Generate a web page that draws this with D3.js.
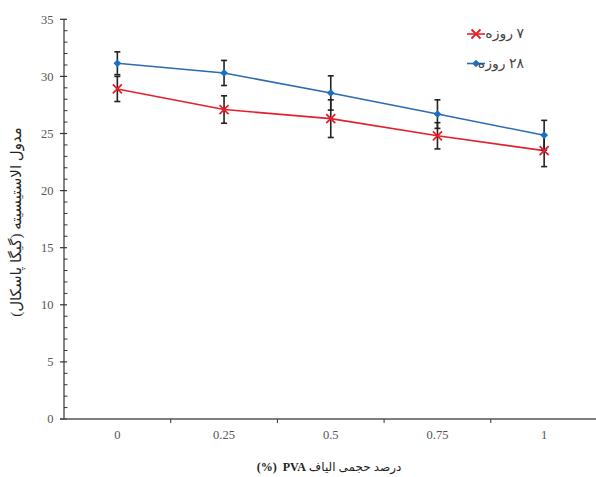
<!DOCTYPE html>
<html>
<head>
<meta charset="utf-8">
<script src="https://cdn.jsdelivr.net/npm/d3@7"></script>
<style>
  html, body { margin: 0; padding: 0; background: #fff; }
  svg { display: block; }
  text { font-family: "Liberation Serif", "DejaVu Sans", serif; }
</style>
</head>
<body>
<div id="chart"></div>
<script>
// Fibre volume fractions (x categories)
const categories = ["0", "0.25", "0.5", "0.75", "1"];
// Modulus of elasticity (GPa) after 7 and 28 days of curing
const series7 = [28.9, 27.1, 26.3, 24.8, 23.5];
const err7 = [1.1, 1.2, 1.65, 1.15, 1.4];
const series28 = [31.15, 30.3, 28.55, 26.7, 24.85];
const err28 = [1.0, 1.1, 1.5, 1.25, 1.3];
const yTicks = [0, 5, 10, 15, 20, 25, 30, 35];
const legendLabels = ["۷ روزه", "۲۸ روزه"];
const xTitleFa = "درصد حجمی الیاف ";
const xTitleUnit = "PVA  (%)";
const yTitle = "مدول الاستیسیته (گیگا پاسکال)";

const W = 596, H = 477;
const margin = { left: 64, right: -1.5, top: 19.3, bottom: 58 };

const svg = d3.select("#chart").append("svg")
  .attr("width", W).attr("height", H);

const x = d3.scaleBand()
  .domain(categories)
  .range([margin.left, W - margin.right])
  .paddingInner(0).paddingOuter(0);

const y = d3.scaleLinear()
  .domain([0, 35])
  .range([H - margin.bottom, margin.top]);

const cx = d => x(d) + x.bandwidth() / 2;

// Y axis: major ticks crossing the line, minor ticks inside
const yAxisG = svg.append("g").attr("transform", `translate(${margin.left},0)`);
yAxisG.append("line")
  .attr("x1", 0).attr("x2", 0)
  .attr("y1", y(0)).attr("y2", y(35))
  .attr("stroke", "#333").attr("stroke-width", 1.2);
yAxisG.selectAll(".minor")
  .data(d3.range(0, 36).filter(v => v % 5 !== 0))
  .join("line")
  .attr("x1", 0).attr("x2", 3.5)
  .attr("y1", d => y(d)).attr("y2", d => y(d))
  .attr("stroke", "#333").attr("stroke-width", 1);
yAxisG.selectAll(".major")
  .data(yTicks)
  .join("line")
  .attr("x1", -4).attr("x2", 3)
  .attr("y1", d => y(d)).attr("y2", d => y(d))
  .attr("stroke", "#333").attr("stroke-width", 1.2);
yAxisG.selectAll(".ylab")
  .data(yTicks)
  .join("text")
  .attr("x", -10.5).attr("y", d => y(d))
  .attr("dy", "0.35em")
  .attr("text-anchor", "end")
  .attr("font-size", 12.5).attr("fill", "#555")
  .text(d => d);

// X axis: band boundaries marked with ticks
const xAxisG = svg.append("g").attr("transform", `translate(0,${y(0)})`);
xAxisG.append("line")
  .attr("x1", margin.left - 4).attr("x2", W)
  .attr("stroke", "#555").attr("stroke-width", 1.4);
xAxisG.selectAll(".xtick")
  .data(categories.slice(1))
  .join("line")
  .attr("x1", d => x(d)).attr("x2", d => x(d))
  .attr("y1", 0).attr("y2", 4)
  .attr("stroke", "#333").attr("stroke-width", 1);
xAxisG.selectAll(".xlab")
  .data(categories)
  .join("text")
  .attr("x", d => cx(d)).attr("y", 20)
  .attr("text-anchor", "middle")
  .attr("font-size", 12.5).attr("fill", "#555")
  .text(d => d);

// Axis titles
const xt = svg.append("text")
  .attr("x", 329).attr("y", 471)
  .attr("text-anchor", "middle")
  .attr("direction", "rtl")
  .attr("xml:space", "preserve")
  .style("white-space", "pre")
  .attr("font-size", 12).attr("fill", "#222");
xt.append("tspan").text(xTitleFa);
xt.append("tspan").attr("font-weight", "bold").text(xTitleUnit);

svg.append("text")
  .attr("transform", `translate(21,222) rotate(-90)`)
  .attr("text-anchor", "middle")
  .attr("direction", "rtl")
  .attr("font-size", 15).attr("fill", "#222")
  .text(yTitle);

const red = "#e3202b", blue = "#2b6bb2", blueMark = "#1b6fc4";

const line = d3.line().x((d, i) => cx(categories[i])).y(d => y(d));

// Series lines
svg.append("path").datum(series28)
  .attr("d", line).attr("fill", "none")
  .attr("stroke", blue).attr("stroke-width", 1.6);
svg.append("path").datum(series7)
  .attr("d", line).attr("fill", "none")
  .attr("stroke", red).attr("stroke-width", 1.6);

// Error bars
function errorBars(vals, errs) {
  const g = svg.append("g").attr("stroke", "#222").attr("stroke-width", 1.6);
  vals.forEach((v, i) => {
    const px = cx(categories[i]);
    g.append("line").attr("x1", px).attr("x2", px)
      .attr("y1", y(v - errs[i])).attr("y2", y(v + errs[i]));
    [v - errs[i], v + errs[i]].forEach(e => {
      g.append("line").attr("x1", px - 3).attr("x2", px + 3)
        .attr("y1", y(e)).attr("y2", y(e));
    });
  });
}
errorBars(series28, err28);
errorBars(series7, err7);

// Markers
const diamond = d3.symbol().type(d3.symbolDiamond2).size(38);
function crossPath(px, py, r) {
  return `M${px - r},${py - r}L${px + r},${py + r}M${px - r},${py + r}L${px + r},${py - r}`;
}
svg.append("g").selectAll("path")
  .data(series28)
  .join("path")
  .attr("transform", (d, i) => `translate(${cx(categories[i])},${y(d)})`)
  .attr("d", diamond)
  .attr("fill", blueMark);
svg.append("g").selectAll("path")
  .data(series7)
  .join("path")
  .attr("d", (d, i) => crossPath(cx(categories[i]), y(d), 4.5))
  .attr("stroke", red).attr("stroke-width", 1.8).attr("fill", "none");

// Legend
const legend = svg.append("g");
const legendItems = [
  { label: legendLabels[0], color: red, kind: "cross", ly: 34 },
  { label: legendLabels[1], color: blue, kind: "diamond", ly: 63.5 }
];
legendItems.forEach(it => {
  legend.append("line")
    .attr("x1", 467).attr("x2", 485)
    .attr("y1", it.ly).attr("y2", it.ly)
    .attr("stroke", it.color).attr("stroke-width", 1.6);
  if (it.kind === "cross") {
    legend.append("path").attr("d", crossPath(476, it.ly, 4.5))
      .attr("stroke", it.color).attr("stroke-width", 1.8).attr("fill", "none");
  } else {
    legend.append("path").attr("transform", `translate(476,${it.ly})`)
      .attr("d", diamond).attr("fill", blueMark);
  }
  legend.append("text")
    .attr("x", 524).attr("y", it.ly)
    .attr("dy", "0.3em")
    .attr("direction", "rtl")
    .attr("text-anchor", "start")
    .attr("font-size", 14).attr("fill", "#444")
    .text(it.label);
});
</script>
</body>
</html>
